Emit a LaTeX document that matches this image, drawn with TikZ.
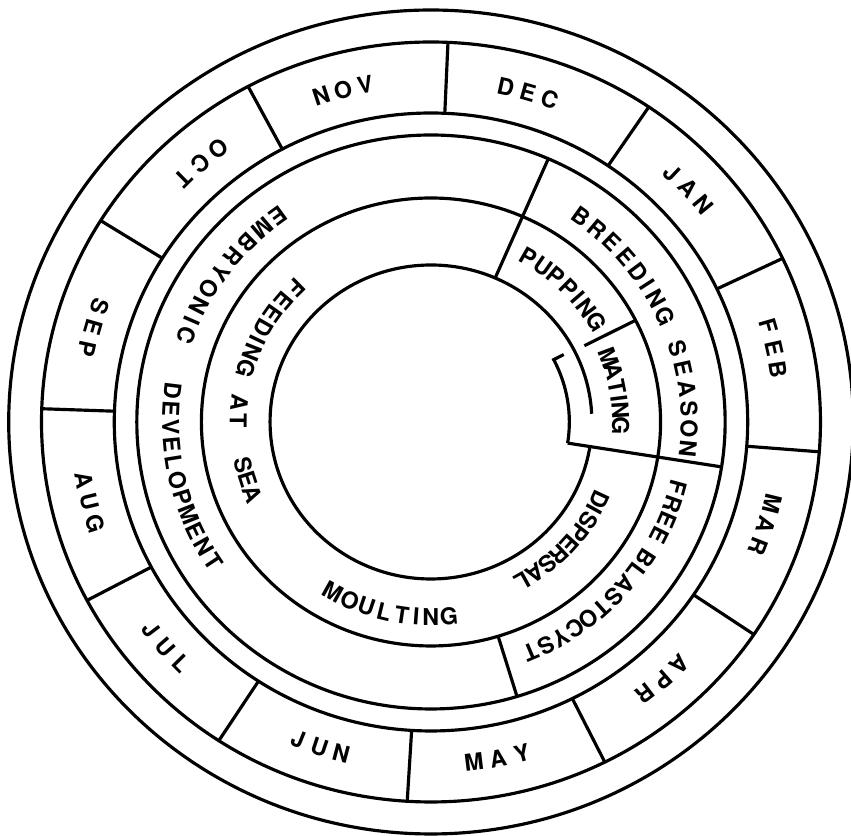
\documentclass[tikz,border=0pt]{standalone}
\usepackage{fontspec}
\setmainfont{TeX Gyre Heros}

% letters set one by one round the centre, an I takes less room
\newcommand{\arcword}[4]{%
  \pgfmathsetmacro{\arcpos}{#2-(#3)/2}\global\let\arcpos\arcpos
  \foreach \ch in {#4} {
    \if I\ch \def\arcw{0.6}\else \def\arcw{1}\fi
    \pgfmathsetmacro{\ang}{\arcpos+\arcw*(#3)/2}
    \pgfmathsetmacro{\rot}{\ang+90*sign(#3)}
    \node[lbl, rotate=\rot] at (\ang:#1) {\ch};
    \pgfmathsetmacro{\arcnext}{\arcpos+\arcw*(#3)}\global\let\arcpos\arcnext
  }}

\begin{document}
\begin{tikzpicture}[x=0.01cm, y=0.01cm, xscale=1.025, line width=0.9pt,
  lbl/.style={inner sep=0pt, font=\fontsize{6.6}{7}\selectfont\bfseries}]
  \useasboundingbox (-420.5,-414) rectangle (409.8,422);

  % rings
  \foreach \r in {412,380,309,287,224}
    \draw (0,0) circle (\r);
  \draw (3:157) arc (3:351:157);

  % month boxes
  \foreach \a in {87.5,56,25.5,-4.5,-34,-63.5,-93.5,-123,-152,178,148,118}
    \draw (\a:309) -- (\a:380);

  % seasons
  \draw (66.5:157) -- (66.5:287);
  \draw (-9:135) -- (-9:287);
  \draw (-73:224) -- (-73:287);
  \draw (27:168) -- (27:224);
  \draw (27.5:146) -- (27.5:135) arc (27.5:-9:135);

  \arcword{343}{108.2}{-3.7}{N,O,V}
  \arcword{343}{77.7}{-3.7}{D,E,C}
  \arcword{343}{46.7}{-3.7}{J,A,N}
  \arcword{343}{16.2}{-3.7}{F,E,B}
  \arcword{343}{-13.8}{-3.7}{M,A,R}
  \arcword{343}{-45}{-3.7}{A,P,R}
  \arcword{343}{-83}{4}{M,A,Y}
  \arcword{343}{-112.2}{3.7}{J,U,N}
  \arcword{343}{-142.7}{3.7}{J,U,L}
  \arcword{343}{-170.2}{3.7}{A,U,G}
  \arcword{343}{160.3}{3.7}{S,E,P}
  \arcword{343}{127.3}{3.7}{O,C,T}

  \arcword{252}{54.5}{-4.5}{B,R,E,E,D,I,N,G}
  \arcword{252}{16.9}{-4.6}{S,E,A,S,O,N}
  \arcword{250}{-15.2}{-3.9}{F,R,E,E}
  \arcword{250}{-32.9}{-3.8}{B,L,A,S,T,O,C,Y,S,T}
  \arcword{254}{125.9}{4.5}{E,M,B,R,Y,O,N,I,C}
  \arcword{254}{173}{4.05}{D,E,V,E,L,O,P,M,E,N,T}

  \arcword{188}{134.5}{5.2}{F,E,E,D,I,N,G}
  \arcword{188}{174}{5.5}{A,T}
  \arcword{188}{193.2}{4.6}{S,E,A}
  \arcword{195}{-119.2}{5.2}{M,O,U,L,T,I,N,G}
  \arcword{182}{-25.1}{-4.7}{D,I,S,P,E,R,S,A,L}
  \arcword{190}{60}{-5}{P,U,P,P,I,N,G}
  \arcword{185}{20.5}{-4.7}{M,A,T,I,N,G}
\end{tikzpicture}
\end{document}
